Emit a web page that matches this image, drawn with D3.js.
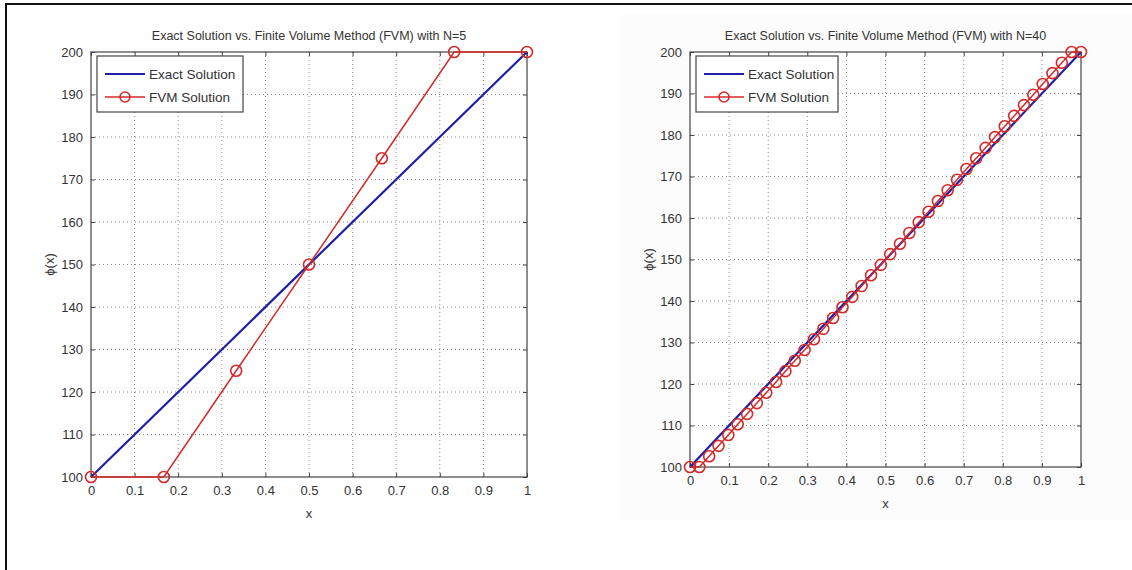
<!DOCTYPE html>
<html>
<head>
<meta charset="utf-8">
<script src="https://cdn.jsdelivr.net/npm/d3@7/dist/d3.min.js"></script>
<style>
  body { margin: 0; background: #fff; }
  svg { display: block; font-family: "Liberation Sans", Arial, sans-serif; }
  .tick-label { font-size: 13px; fill: #333; }
  .title { font-size: 12.5px; fill: #333; }
</style>
</head>
<body>
<div id="chart"></div>
<script>
// data
var xTicks = [0, 0.1, 0.2, 0.3, 0.4, 0.5, 0.6, 0.7, 0.8, 0.9, 1];
var yTicks = [100, 110, 120, 130, 140, 150, 160, 170, 180, 190, 200];

var exactX = [0, 1];
var exactY = [100, 200];

var fvm5X = [0, 0.167, 0.333, 0.5, 0.667, 0.833, 1];
var fvm5Y = [100, 100, 125, 150, 175, 200, 200];

var fvm40X = [0, 0.024, 0.049, 0.073, 0.098, 0.122, 0.146, 0.171, 0.195, 0.22,
  0.244, 0.268, 0.293, 0.317, 0.341, 0.366, 0.39, 0.415, 0.439, 0.463,
  0.488, 0.512, 0.537, 0.561, 0.585, 0.61, 0.634, 0.659, 0.683, 0.707,
  0.732, 0.756, 0.78, 0.805, 0.829, 0.854, 0.878, 0.902, 0.927, 0.951,
  0.976, 1];
var fvm40Y = [100, 100, 102.6, 105.1, 107.7, 110.3, 112.8, 115.4, 117.9, 120.5,
  123.1, 125.6, 128.2, 130.8, 133.3, 135.9, 138.5, 141.0, 143.6, 146.2,
  148.7, 151.3, 153.8, 156.4, 159.0, 161.5, 164.1, 166.7, 169.2, 171.8,
  174.4, 176.9, 179.5, 182.1, 184.6, 187.2, 189.7, 192.3, 194.9, 197.4,
  200, 200];

var seriesNames = ["Exact Solution", "FVM Solution"];

var svgWidth = 1132;
var svgHeight = 570;

var svg = d3.select("#chart")
  .append("svg")
  .attr("width", svgWidth)
  .attr("height", svgHeight);

// faint background of the pasted right figure
svg.append("rect").attr("x", 620).attr("y", 14).attr("width", 512).attr("height", 506).attr("fill", "#fcfcfc");

// outer frame (top and left only visible)
svg.append("line").attr("x1", 5).attr("x2", svgWidth).attr("y1", 4).attr("y2", 4)
  .attr("stroke", "#111").attr("stroke-width", 2);
svg.append("line").attr("x1", 6).attr("x2", 6).attr("y1", 4).attr("y2", svgHeight)
  .attr("stroke", "#111").attr("stroke-width", 2);

var blue = "#1e1ea6";
var red = "#d42a2a";

function drawPanel(p) {
  var x = d3.scaleLinear().domain([0, 1]).range([p.left, p.right]);
  var y = d3.scaleLinear().domain([100, 200]).range([p.bottom, p.top]);
  var g = svg.append("g");

  g.append("rect")
    .attr("x", p.left).attr("y", p.top)
    .attr("width", p.right - p.left).attr("height", p.bottom - p.top)
    .attr("fill", "#fff");

  // dotted grid
  g.selectAll(".vgrid").data(xTicks.slice(1, -1)).enter().append("line")
    .attr("x1", d => x(d)).attr("x2", d => x(d))
    .attr("y1", p.top).attr("y2", p.bottom)
    .attr("stroke", "#8a8a8a").attr("stroke-width", 1).attr("stroke-dasharray", "1,3");
  g.selectAll(".hgrid").data(yTicks.slice(1, -1)).enter().append("line")
    .attr("x1", p.left).attr("x2", p.right)
    .attr("y1", d => y(d)).attr("y2", d => y(d))
    .attr("stroke", "#8a8a8a").attr("stroke-width", 1).attr("stroke-dasharray", "1,3");

  // axes on all four sides, ticks inward
  var tl = 4;
  g.append("g").attr("transform", `translate(0,${p.bottom})`)
    .call(d3.axisBottom(x).tickValues(xTicks).tickSize(-tl).tickPadding(tl + 5).tickFormat(d3.format("")))
    .call(a => a.select(".domain").remove());
  g.append("g").attr("transform", `translate(0,${p.top})`)
    .call(d3.axisTop(x).tickValues(xTicks).tickSize(-tl).tickFormat(""))
    .call(a => a.select(".domain").remove());
  g.append("g").attr("transform", `translate(${p.left},0)`)
    .call(d3.axisLeft(y).tickValues(yTicks).tickSize(-tl).tickPadding(tl + 4))
    .call(a => a.select(".domain").remove());
  g.append("g").attr("transform", `translate(${p.right},0)`)
    .call(d3.axisRight(y).tickValues(yTicks).tickSize(-tl).tickFormat(""))
    .call(a => a.select(".domain").remove());
  g.selectAll(".tick line").attr("stroke", "#444");
  g.selectAll(".tick text").attr("class", "tick-label")
    .attr("font-family", null).attr("font-size", null);

  g.append("rect")
    .attr("x", p.left).attr("y", p.top)
    .attr("width", p.right - p.left).attr("height", p.bottom - p.top)
    .attr("fill", "none").attr("stroke", "#444").attr("stroke-width", 1.2);

  // exact solution
  var line = d3.line().x(d => x(d[0])).y(d => y(d[1]));
  g.append("path")
    .datum(d3.zip(exactX, exactY))
    .attr("d", line)
    .attr("fill", "none").attr("stroke", blue).attr("stroke-width", 2.2);

  // FVM solution
  var fvm = d3.zip(p.fx, p.fy);
  g.append("path")
    .datum(fvm)
    .attr("d", line)
    .attr("fill", "none").attr("stroke", red).attr("stroke-width", 1.5);
  g.selectAll(".mk").data(fvm).enter().append("circle")
    .attr("cx", d => x(d[0])).attr("cy", d => y(d[1]))
    .attr("r", 5.5)
    .attr("fill", "none").attr("stroke", red).attr("stroke-width", 1.6);

  // title and labels
  g.append("text").attr("class", "title")
    .attr("x", (p.left + p.right) / 2).attr("y", p.top - 12)
    .attr("text-anchor", "middle").text(p.title);
  g.append("text").attr("class", "tick-label")
    .attr("x", (p.left + p.right) / 2).attr("y", p.bottom + 41)
    .attr("text-anchor", "middle").text("x");
  g.append("text").attr("class", "tick-label")
    .attr("transform", `translate(${p.left - 37},${(p.top + p.bottom) / 2}) rotate(-90)`)
    .attr("text-anchor", "middle").text("\u03d5(x)");

  // legend
  var lg = g.append("g").attr("transform", `translate(${p.left + 6},${p.top + 4})`);
  lg.append("rect").attr("width", p.legW).attr("height", 56)
    .attr("fill", "#fff").attr("stroke", "#444").attr("stroke-width", 1.2);
  var rows = [
    { name: seriesNames[0], color: blue, marker: false, w: 2.2 },
    { name: seriesNames[1], color: red, marker: true, w: 1.5 }
  ];
  rows.forEach(function (r, i) {
    var yy = 18 + i * 23;
    lg.append("line").attr("x1", 8).attr("x2", 48).attr("y1", yy).attr("y2", yy)
      .attr("stroke", r.color).attr("stroke-width", r.w);
    if (r.marker) {
      lg.append("circle").attr("cx", 28).attr("cy", yy).attr("r", 5)
        .attr("fill", "none").attr("stroke", r.color).attr("stroke-width", 1.6);
    }
    lg.append("text").attr("class", "tick-label").attr("x", 52).attr("y", yy + 5)
      .style("font-size", "13.5px").text(r.name);
  });
}

drawPanel({
  left: 91, right: 527, top: 52, bottom: 477,
  fx: fvm5X, fy: fvm5Y, legW: 146,
  title: "Exact Solution vs. Finite Volume Method (FVM) with N=5"
});

drawPanel({
  left: 690, right: 1081, top: 52, bottom: 467,
  fx: fvm40X, fy: fvm40Y, legW: 142,
  title: "Exact Solution vs. Finite Volume Method (FVM) with N=40"
});
</script>
</body>
</html>
